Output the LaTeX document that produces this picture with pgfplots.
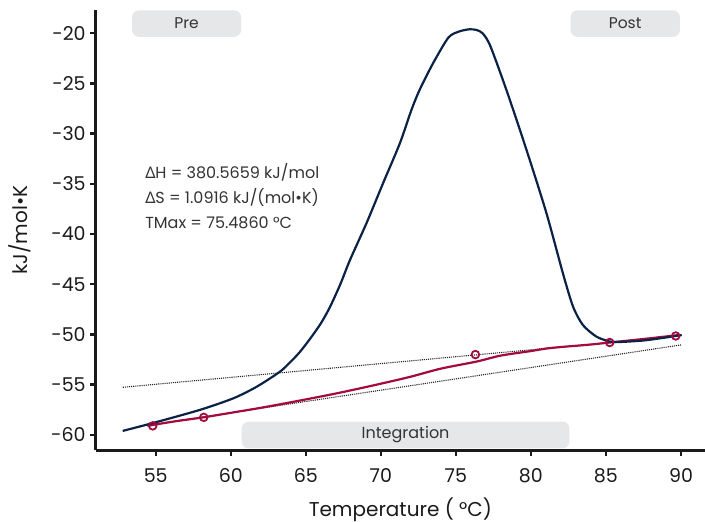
\documentclass[border=0pt]{standalone}
\usepackage{fontspec}
\setmainfont{Poppins}
\newfontfamily\grk{Noto Sans}
\usepackage{pgfplots}
\pgfplotsset{compat=1.18}
\definecolor{navy}{HTML}{0A2245}
\definecolor{crim}{HTML}{A30B3C}
\definecolor{boxgray}{HTML}{E6E7E9}
\definecolor{txt}{HTML}{333333}
\definecolor{spine}{HTML}{1A1A1A}
\begin{document}
\begin{tikzpicture}
\path[use as bounding box] (-95.7pt,-71.5pt) rectangle (609.3pt,450.5pt);
\begin{axis}[
  at={(0pt,0pt)}, anchor=south west,
  scale only axis, width=609.3pt, height=440.5pt,
  xmin=51.0, xmax=91.6, ymin=-61.55, ymax=-17.7,
  axis lines=left, axis line style={-, line width=2.4pt, color=spine},
  tick align=outside, major tick length=5.5pt,
  tick style={line width=2.4pt, color=spine},
  xtick={55,60,...,90}, xticklabels={55,60,65,70,75,80,85,90},
  ytick={-60,-55,...,-20}, yticklabels={-60,-55,-50,-45,-40,-35,-30,-25,-20},
  ticklabel style={font=\fontsize{19}{21}\selectfont, text=spine},
  xticklabel style={yshift=-9pt},
  yticklabel style={xshift=-1pt},
  xlabel={Temperature ( °C)},
  ylabel={kJ/mol•K},
  label style={font=\fontsize{20}{22}\selectfont, text=spine},
  xlabel style={at={(axis description cs:0.5,0)}, anchor=base, yshift=-66pt},
  ylabel style={at={(axis description cs:0,0.5)}, anchor=base, yshift=68pt},
  clip=false,
]
% annotation boxes
\fill[boxgray, rounded corners=7pt] (axis cs:53.42,-20.37) rectangle (axis cs:60.69,-17.73);
\node[text=txt, font=\fontsize{15.5}{17}\selectfont] at (axis cs:57.05,-19.05) {Pre};
\fill[boxgray, rounded corners=7pt] (axis cs:82.64,-20.37) rectangle (axis cs:89.93,-17.73);
\node[text=txt, font=\fontsize{15.5}{17}\selectfont] at (axis cs:86.28,-19.05) {Post};
\fill[boxgray, rounded corners=7pt] (axis cs:60.73,-61.34) rectangle (axis cs:82.57,-58.68);
\node[text=txt, font=\fontsize{16}{18}\selectfont] at (axis cs:71.65,-60.0) {Integration};
% text
\node[anchor=base west, inner sep=0pt, text=txt, font=\fontsize{16}{18}\selectfont] at (axis cs:54.29,-34.43) {{\grk Δ}H = 380.5659 kJ/mol};
\node[anchor=base west, inner sep=0pt, text=txt, font=\fontsize{16}{18}\selectfont] at (axis cs:54.29,-36.92) {{\grk Δ}S = 1.0916 kJ/(mol•K)};
\node[anchor=base west, inner sep=0pt, text=txt, font=\fontsize{16}{18}\selectfont] at (axis cs:54.29,-39.41) {TMax = 75.4860 °C};
% dotted baselines
\addplot[densely dotted, line width=1.1pt, color=black!85] coordinates {(52.8,-55.26) (85.3,-50.8)};
\addplot[densely dotted, line width=1.1pt, color=black!85] coordinates {(54.8,-58.97) (90,-51.04)};
% red baseline
\addplot[crim, line width=2.2pt, smooth, tension=0.5] coordinates {
(54.45,-59.15) (54.75,-59.02) (56.5,-58.6) (58.18,-58.25) (60,-57.8) (62,-57.3) (64,-56.75)
(66.6,-56.0) (68.5,-55.4) (70,-54.9) (72,-54.2) (74,-53.4) (76.37,-52.7) (78,-52.1)
(80,-51.65) (81.03,-51.4) (82,-51.25) (84,-51.0) (85.25,-50.8) (87.5,-50.45) (89.9,-50.05)};
% blue curve
\addplot[navy, line width=2.2pt, smooth, tension=0.45] coordinates {
(52.8,-59.6) (54.85,-58.8) (57.96,-57.5) (60.18,-56.35) (61.73,-55.2) (63.28,-53.7)
(64.0,-52.7) (64.6,-51.75) (65.3,-50.4) (66.0,-48.9) (66.6,-47.3) (67.3,-45.0) (67.94,-42.6)
(69.05,-38.9) (70.16,-34.9)
(71.27,-30.96) (72.05,-27.6) (72.6,-25.6) (73.48,-23.0) (74.5,-20.45) (75.2,-19.85)
(75.9,-19.62) (76.4,-19.7) (76.8,-20.05) (77.3,-21.3) (78.4,-25.8) (79.7,-31.6)
(81.03,-37.9) (82.13,-43.9) (82.8,-47.2) (83.46,-49.05) (84.35,-50.2) (85.24,-50.7)
(85.9,-50.75) (87.5,-50.6) (89,-50.3) (90.05,-50.05)};
% markers
\addplot[only marks, mark=o, mark size=3.8pt, mark options={line width=1.8pt, draw=crim, fill=none}] coordinates {
(54.8,-59.1) (58.2,-58.25) (76.3,-52.0) (85.25,-50.8) (89.65,-50.15)};
\end{axis}
\end{tikzpicture}
\end{document}
